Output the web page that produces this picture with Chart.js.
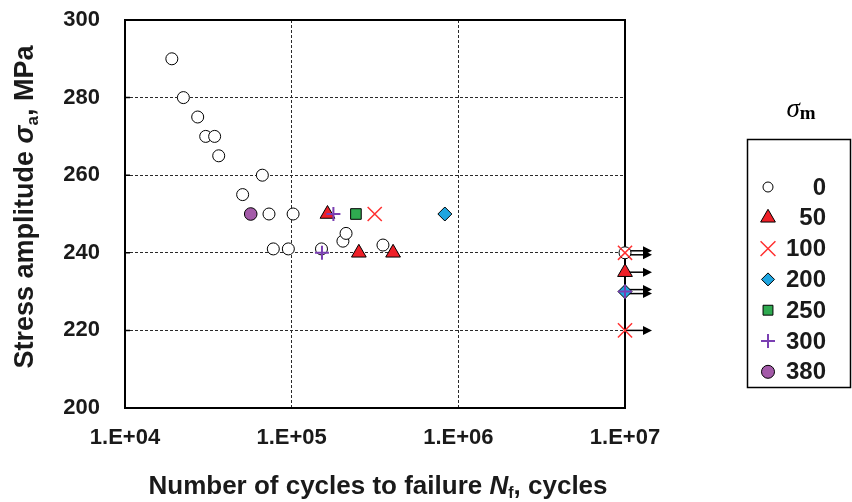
<!DOCTYPE html>
<html>
<head>
<meta charset="utf-8">
<title>S-N data by mean stress</title>
<script src="https://cdn.jsdelivr.net/npm/chart.js@4"></script>
<style>
  html, body { margin: 0; padding: 0; background: #fff; }
  #wrap { width: 852px; height: 502px; }
</style>
</head>
<body>
<div id="wrap"><canvas id="sn-chart" width="852" height="502"></canvas></div>
<script>
// Mean stress levels (MPa), one series each
const meanStress = ['0', '50', '100', '200', '250', '300', '380'];

// Cycles to failure / stress amplitude per mean stress (1e7 = run-out)
const cyclesM0 = [19100, 22400, 27300, 30500, 34500, 36500, 50800, 66700, 73100, 102000, 77600, 95500, 151000, 203000, 212000, 353000, 1e7];
const stressM0 = [290, 280, 275, 270, 270, 265, 255, 260, 250, 250, 241, 241, 241, 243, 245, 242, 240];
const cyclesM50 = [164000, 253000, 406000, 1e7];
const stressM50 = [250, 240, 240, 235];
const cyclesM100 = [315000, 1e7, 1e7];
const stressM100 = [250, 240, 220];
const cyclesM200 = [830000, 1e7];
const stressM200 = [250, 230];
const cyclesM250 = [243000];
const stressM250 = [250];
const cyclesM300 = [178000, 152000, 1e7];
const stressM300 = [250, 240, 230];
const cyclesM380 = [56800];
const stressM380 = [250];

const runoutCycles = 1e7;
const xTicks = [1e4, 1e5, 1e6, 1e7];
const yTicks = [200, 220, 240, 260, 280, 300];

const SANS = "'Liberation Sans', Arial, Helvetica, sans-serif";
const SERIF = "'Liberation Serif', 'Times New Roman', serif";
const INK = '#1a1a1a';

function points(cycles, stress) {
  return cycles.map((n, i) => ({ x: n, y: stress[i] }));
}

// marker look for each series; legend sizes are a bit different from plot sizes
const markers = [
  { style: 'circle',   r: 6,   lr: 5,    fill: '#ffffff', line: '#000000', w: 1 },
  { style: 'triangle', r: 8.5, lr: 8.5,  fill: '#ee2028', line: '#000000', w: 1 },
  { style: 'crossRot', r: 10,  lr: 10.5, fill: '#ff3030', line: '#ff3030', w: 1.5 },
  { style: 'rectRot',  r: 7,   lr: 6.5,  fill: '#1ea5e0', line: '#000000', w: 1 },
  { style: 'rect',     r: 7.5, lr: 7,    fill: '#2faa50', line: '#000000', w: 1 },
  { style: 'cross',    r: 7,   lr: 7,    fill: '#7a3fb2', line: '#7a3fb2', w: 2 },
  { style: 'circle',   r: 6.3, lr: 6.5,  fill: '#a35aa8', line: '#000000', w: 1 }
];

const seriesData = [
  points(cyclesM0, stressM0),
  points(cyclesM50, stressM50),
  points(cyclesM100, stressM100),
  points(cyclesM200, stressM200),
  points(cyclesM250, stressM250),
  points(cyclesM300, stressM300),
  points(cyclesM380, stressM380)
];

const datasets = seriesData.map((data, i) => ({
  label: meanStress[i],
  data: data,
  pointStyle: markers[i].style,
  pointRadius: markers[i].r,
  pointBackgroundColor: markers[i].fill,
  pointBorderColor: markers[i].line,
  pointBorderWidth: markers[i].w,
  showLine: false,
  clip: false,
  order: -i
}));

// text made of pieces (italic symbol, subscript), centred on cx, baseline cy
function drawRich(ctx, parts, cx, cy) {
  let total = 0;
  parts.forEach(p => { ctx.font = p.font; p.w = ctx.measureText(p.text).width; total += p.w; });
  let x = cx - total / 2;
  ctx.textAlign = 'left';
  ctx.textBaseline = 'alphabetic';
  parts.forEach(p => {
    ctx.font = p.font;
    ctx.fillText(p.text, x, cy + (p.dy || 0));
    x += p.w;
  });
}

const frameBox = {
  id: 'frameBox',
  beforeDatasetsDraw(chart) {
    const { ctx, chartArea: a, scales } = chart;
    ctx.save();
    ctx.strokeStyle = '#000';
    ctx.lineWidth = 2;
    ctx.strokeRect(a.left, a.top, a.right - a.left, a.bottom - a.top);
    ctx.lineWidth = 1.5;
    ctx.beginPath();
    yTicks.forEach(v => {
      const y = scales.y.getPixelForValue(v);
      ctx.moveTo(a.left, y);
      ctx.lineTo(a.left + 5, y);
    });
    ctx.stroke();
    ctx.restore();
  }
};

// arrows to the right of run-out specimens
const runoutArrows = {
  id: 'runoutArrows',
  beforeDatasetsDraw(chart) {
    const { ctx, scales: { x, y } } = chart;
    const count = {};
    chart.data.datasets.forEach(ds => ds.data.forEach(p => {
      if (p.x >= runoutCycles) { count[p.y] = (count[p.y] || 0) + 1; }
    }));
    const px = x.getPixelForValue(runoutCycles);
    ctx.save();
    ctx.strokeStyle = '#000';
    ctx.fillStyle = '#000';
    ctx.lineWidth = 1.5;
    Object.keys(count).forEach(k => {
      const n = count[k];
      for (let i = 0; i < n; i++) {
        const py = y.getPixelForValue(Number(k)) + (n > 1 ? (i - (n - 1) / 2) * 4 : 0);
        ctx.beginPath();
        ctx.moveTo(px, py);
        ctx.lineTo(px + 20, py);
        ctx.stroke();
        ctx.beginPath();
        ctx.moveTo(px + 27, py);
        ctx.lineTo(px + 18, py - 4.5);
        ctx.lineTo(px + 18, py + 4.5);
        ctx.closePath();
        ctx.fill();
      }
    });
    ctx.restore();
  }
};

// axis titles and the mean-stress key
const titlesAndKey = {
  id: 'titlesAndKey',
  afterDraw(chart) {
    const ctx = chart.ctx;
    ctx.save();
    ctx.fillStyle = INK;

    drawRich(ctx, [
      { text: 'Number of cycles to failure ', font: 'bold 26px ' + SANS },
      { text: 'N', font: 'italic bold 26px ' + SANS },
      { text: 'f', font: 'bold 16px ' + SANS, dy: 4 },
      { text: ', cycles', font: 'bold 26px ' + SANS }
    ], 378, 494);

    ctx.save();
    ctx.translate(33, 207);
    ctx.rotate(-Math.PI / 2);
    drawRich(ctx, [
      { text: 'Stress amplitude ', font: 'bold 27px ' + SANS },
      { text: '\u03c3', font: 'italic bold 27px ' + SANS },
      { text: 'a', font: 'bold 17px ' + SANS, dy: 5 },
      { text: ', MPa', font: 'bold 27px ' + SANS }
    ], 0, 0);
    ctx.restore();

    // key
    ctx.fillStyle = '#000';
    drawRich(ctx, [
      { text: '\u03c3', font: 'italic 27px ' + SERIF },
      { text: 'm', font: 'bold 19px ' + SERIF, dy: 2 }
    ], 801, 117);

    ctx.strokeStyle = '#000';
    ctx.lineWidth = 1.5;
    ctx.strokeRect(747.5, 139.5, 103, 248);

    chart.data.datasets.forEach((ds, i) => {
      const m = markers[i];
      const y = 187 + i * 30.8;
      ctx.fillStyle = m.fill;
      ctx.strokeStyle = m.line;
      ctx.lineWidth = m.w;
      Chart.helpers.drawPoint(ctx, { pointStyle: m.style, radius: m.lr, rotation: 0, borderWidth: m.w }, 768, y);
      ctx.fillStyle = INK;
      ctx.font = 'bold 24px ' + SANS;
      ctx.textAlign = 'right';
      ctx.textBaseline = 'middle';
      ctx.fillText(ds.label, 826, y + 1);
    });
    ctx.restore();
  }
};

const gridColor = (lo, hi) => c => (c.tick && c.tick.value > lo && c.tick.value < hi) ? '#2a2a2a' : 'rgba(0,0,0,0)';

new Chart(document.getElementById('sn-chart').getContext('2d'), {
  type: 'scatter',
  data: { datasets: datasets },
  options: {
    responsive: false,
    animation: false,
    layout: { padding: { top: 20, right: 227, left: 0, bottom: 0 } },
    plugins: { legend: { display: false }, tooltip: { enabled: false } },
    scales: {
      x: {
        type: 'logarithmic',
        min: 1e4,
        max: 1e7,
        afterBuildTicks: s => { s.ticks = xTicks.map(v => ({ value: v })); },
        afterFit: s => { s.height = 94; s.paddingLeft = 0; s.paddingRight = 0; },
        ticks: {
          autoSkip: false,
          maxRotation: 0,
          padding: 17,
          color: INK,
          font: { family: SANS, size: 22, weight: 'bold' },
          callback: v => '1.E+' + String(Math.round(Math.log10(v))).padStart(2, '0')
        },
        grid: { color: gridColor(1e4, 1e7), lineWidth: 1, drawTicks: false },
        border: { display: false, dash: [3, 2] }
      },
      y: {
        min: 200,
        max: 300,
        afterBuildTicks: s => { s.ticks = yTicks.map(v => ({ value: v })); },
        afterFit: s => { s.width = 125; s.paddingTop = 0; s.paddingBottom = 0; },
        ticks: {
          padding: 25,
          color: INK,
          font: { family: SANS, size: 22, weight: 'bold' }
        },
        grid: { color: gridColor(200, 300), lineWidth: 1, drawTicks: false },
        border: { display: false, dash: [3, 2] }
      }
    }
  },
  plugins: [frameBox, runoutArrows, titlesAndKey]
});
</script>
</body>
</html>
